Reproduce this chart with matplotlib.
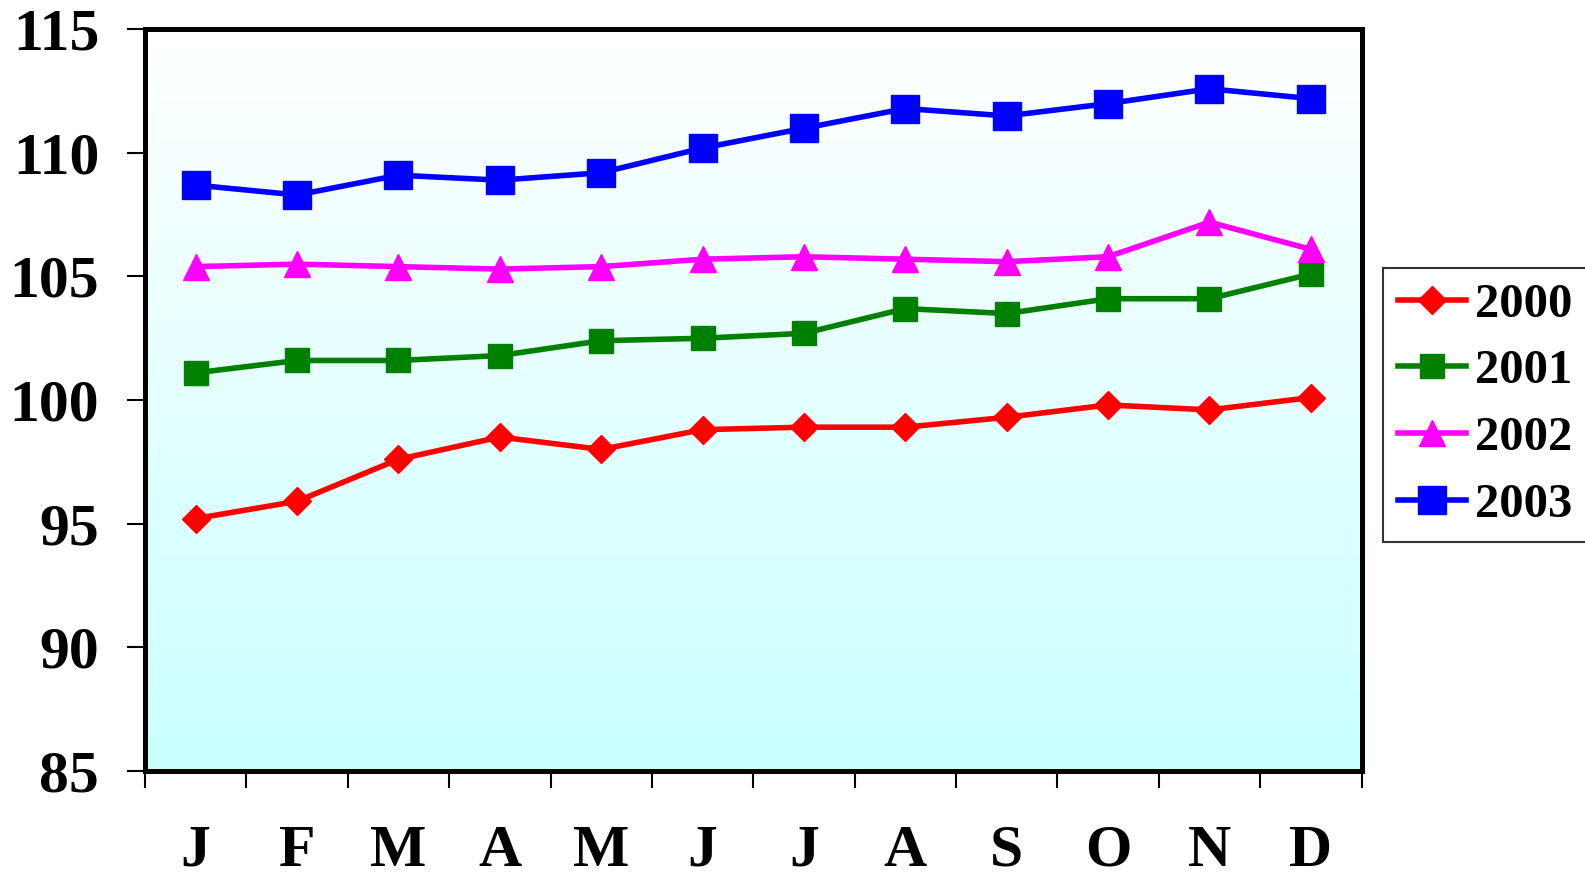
import numpy as np
import matplotlib
matplotlib.use("Agg")
import matplotlib.pyplot as plt

months = ["J", "F", "M", "A", "M", "J", "J", "A", "S", "O", "N", "D"]
years = ["2000", "2001", "2002", "2003"]

v2000 = [95.2, 95.9, 97.6, 98.5, 98.0, 98.8, 98.9, 98.9, 99.3, 99.8, 99.6, 100.1]
v2001 = [101.1, 101.6, 101.6, 101.8, 102.4, 102.5, 102.7, 103.7, 103.5, 104.1, 104.1, 105.1]
v2002 = [105.4, 105.5, 105.4, 105.3, 105.4, 105.7, 105.8, 105.7, 105.6, 105.8, 107.2, 106.1]
v2003 = [108.7, 108.3, 109.1, 108.9, 109.2, 110.2, 111.0, 111.8, 111.5, 112.0, 112.6, 112.2]

series = [v2000, v2001, v2002, v2003]
colors = ["#FF0000", "#008000", "#FF00FF", "#0000FF"]
markers = ["D", "s", "^", "s"]
msizes = [14, 17, 19, 20]

plt.rcParams["font.family"] = ["Liberation Serif", "DejaVu Serif"]
plt.rcParams["font.weight"] = "bold"

fig = plt.figure(figsize=(15.85, 8.77), dpi=100)
ax = fig.add_axes([0.0915, 0.1214, 0.7675, 0.845])

# vertical white-to-cyan background
grad = np.linspace(0, 1, 256).reshape(-1, 1)
top = np.array([1.0, 1.0, 1.0])
bot = np.array([0.79, 1.0, 1.0])
img = top[None, None, :] * (1 - grad[:, :, None]) + bot[None, None, :] * grad[:, :, None]
ax.imshow(img, extent=[0, 12, 85, 115], aspect="auto", origin="upper", zorder=0)

x = np.arange(len(months)) + 0.5
for vals, yr, c, m, ms in zip(series, years, colors, markers, msizes):
    ax.plot(x, vals, color=c, lw=4, marker=m, ms=ms, mec=c, mfc=c,
            label=yr, zorder=3, solid_joinstyle="round")

ax.set_xlim(0, 12)
ax.set_ylim(85, 115)
ax.set_yticks(np.arange(85, 116, 5))
ax.set_xticks(np.arange(13))
ax.set_xticklabels([])
ax.set_xticks(x, minor=True)
ax.set_xticklabels(months, minor=True)
ax.tick_params(axis="x", which="major", direction="out", length=12, width=1.5)
ax.tick_params(axis="x", which="minor", length=0, pad=39, labelsize=43)
ax.tick_params(axis="y", direction="out", length=13, width=1.5, pad=20, labelsize=43)
for lab in ax.get_yticklabels() + ax.get_xticklabels(minor=True):
    lab.set_fontweight("bold")
for sp in ax.spines.values():
    sp.set_linewidth(3.6)

leg = fig.legend(loc="upper left", bbox_to_anchor=(1383 / 1585, 1 - 268 / 877),
                 bbox_transform=fig.transFigure, borderaxespad=0,
                 prop={"size": 35, "weight": "bold"}, handlelength=1.4,
                 handletextpad=0.2, labelspacing=0.47, borderpad=0.3,
                 fancybox=False, frameon=True)
leg.get_frame().set_edgecolor("black")
leg.get_frame().set_linewidth(1.5)

fig.savefig("out.png", dpi=100)
